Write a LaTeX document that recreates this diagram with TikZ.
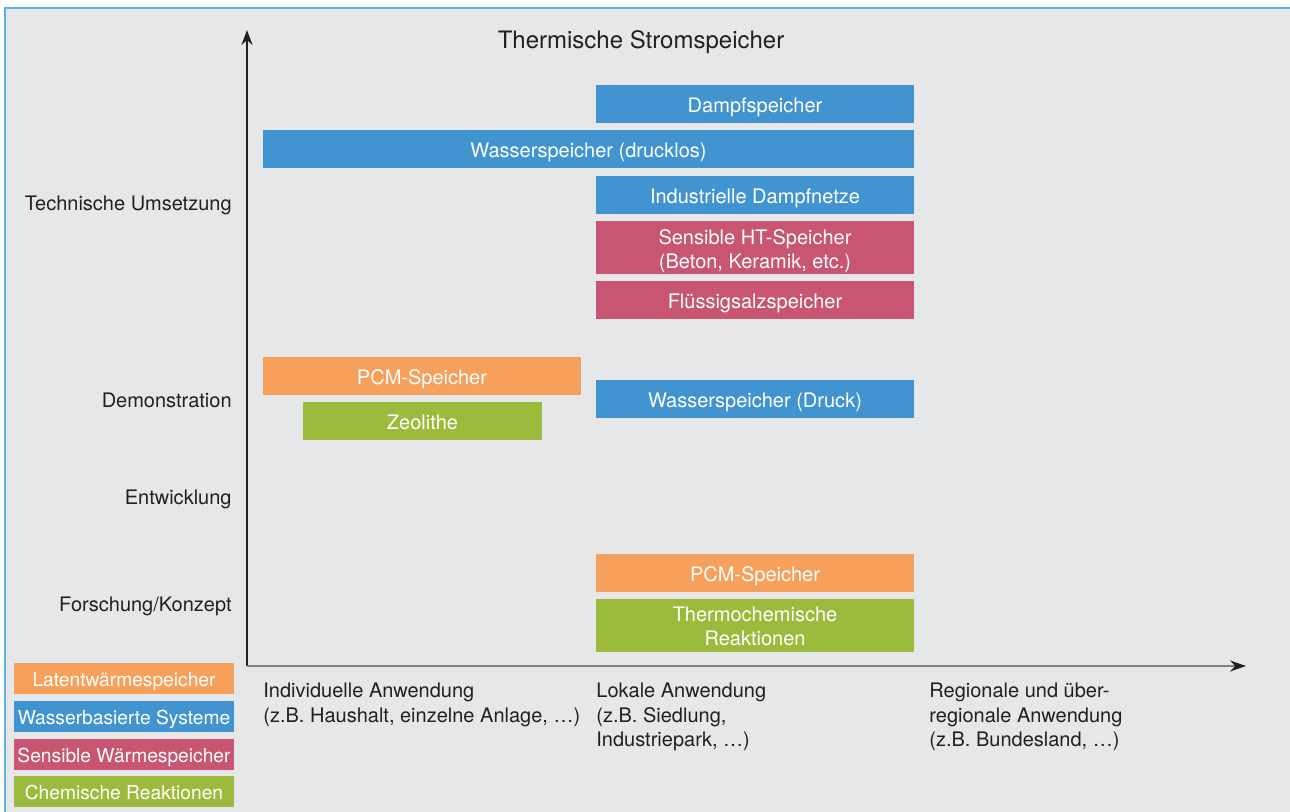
\documentclass[tikz,border=0pt]{standalone}
\usepackage{fontspec}
\setmainfont{TeX Gyre Heros}
\usetikzlibrary{arrows.meta,positioning}
\definecolor{bggray}{RGB}{230,231,233}
\definecolor{frameblue}{RGB}{94,178,228}
\definecolor{wasserblue}{RGB}{66,148,209}
\definecolor{latentorange}{RGB}{247,160,91}
\definecolor{sensiblered}{RGB}{200,86,115}
\definecolor{chemgreen}{RGB}{156,186,59}
\definecolor{textgray}{RGB}{35,31,32}
\tikzset{
bar/.style={rectangle,inner sep=0pt,outer sep=0pt,text=white,align=center,minimum height=19pt,minimum width=159pt,text height=8.2pt,text depth=0pt,font=\fontsize{10}{12}\selectfont},
twoline/.style={minimum height=26.5pt,text height=#1,text depth=0pt},
latent/.style={bar,fill=latentorange},
wasser/.style={bar,fill=wasserblue},
sensibel/.style={bar,fill=sensiblered},
chemisch/.style={bar,fill=chemgreen},
legend/.style={minimum width=110pt,minimum height=15.5pt,text height=7.9pt,font=\fontsize{9.6}{11.5}\selectfont},
axis/.style={line width=.7pt,-{Stealth[length=7.5pt,width=5.5pt]}},
stage/.style={anchor=east,text=textgray,inner sep=0pt,text height=7.2pt,text depth=0pt,font=\fontsize{10}{12}\selectfont},
scope label/.style={anchor=north west,align=left,text=textgray,inner sep=0pt,font=\fontsize{10}{12.25}\selectfont},
}

\begin{document}
\begin{tikzpicture}[
            x=.5pt, y=-.5pt,
            title/.style={text=textgray,text height=8.6pt,text depth=0pt,font=\fontsize{12}{14}\selectfont}
        ]
        \useasboundingbox (0,0) rectangle (1290,812);
        \fill[bggray] (4,8) rectangle (1290,812);
        \draw[frameblue, line width=1pt] (4.5,812) -- (4.5,8.5) -- (1290,8.5);

        \coordinate (O) at (247,666);
        \coordinate (Y) at (247,30);
        \coordinate (X) at (1246,666);

        \draw[axis, textgray] (O) -- (Y);
        \draw[axis, gray, -{Stealth[length=8pt,width=5.5pt,textgray]}] (O) -- (X);

        \node[title] (head) at (641,40) {Thermische Stromspeicher};

        \node[stage] (tech) at (232,203) {Technische Umsetzung};
        \node[stage] (demo) at (232,400) {Demonstration};
        \node[stage] (entw) at (232,497) {Entwicklung};
        \node[stage] (fors) at (232,604) {Forschung/Konzept};

        \node[wasser] (dampf) at (755,104) {Dampfspeicher};
        \node[wasser, minimum width=325.5pt] (drucklos) at (588.5,149) {Wasserspeicher (drucklos)};
        \node[wasser] (netze) at (755,195) {Industrielle Dampfnetze};
        \node[sensibel, twoline=20.7pt, below=3.5pt of netze] (htsp) {Sensible HT-Speicher\\(Beton, Keramik, etc.)};
        \node[sensibel, below=3.5pt of htsp] (salz) {Flüssigsalzspeicher};

        \node[latent] (pcmdemo) at (422,376) {PCM-Speicher};
        \node[chemisch, minimum width=119.5pt] (zeo) at (422.5,421) {Zeolithe};
        \node[wasser] (druck) at (755,399) {Wasserspeicher (Druck)};

        \node[latent] (pcmfors) at (755,573) {PCM-Speicher};
        \node[chemisch, twoline=20.2pt, below=3.5pt of pcmfors] (thermo) {Thermochemische\\Reaktionen};

        \node[latent, legend] (leglatent) at (124,678.5) {Latentwärmespeicher};
        \node[wasser, legend] (legwasser) at (124,716.5) {Wasserbasierte Systeme};
        \node[sensibel, legend] (legsens) at (124,754.5) {Sensible Wärmespeicher};
        \node[chemisch, legend] (legchem) at (124,791.5) {Chemische Reaktionen};

        \node[scope label] (indiv) at (263,683) {Individuelle Anwendung\\(z.B. Haushalt, einzelne Anlage, …)};
        \node[scope label] (lokal) at (596,683) {Lokale Anwendung\\(z.B. Siedlung,\\Industriepark, …)};
        \node[scope label] (region) at (929,683) {Regionale und über-\\regionale Anwendung\\(z.B. Bundesland, …)};
    \end{tikzpicture}
\end{document}
